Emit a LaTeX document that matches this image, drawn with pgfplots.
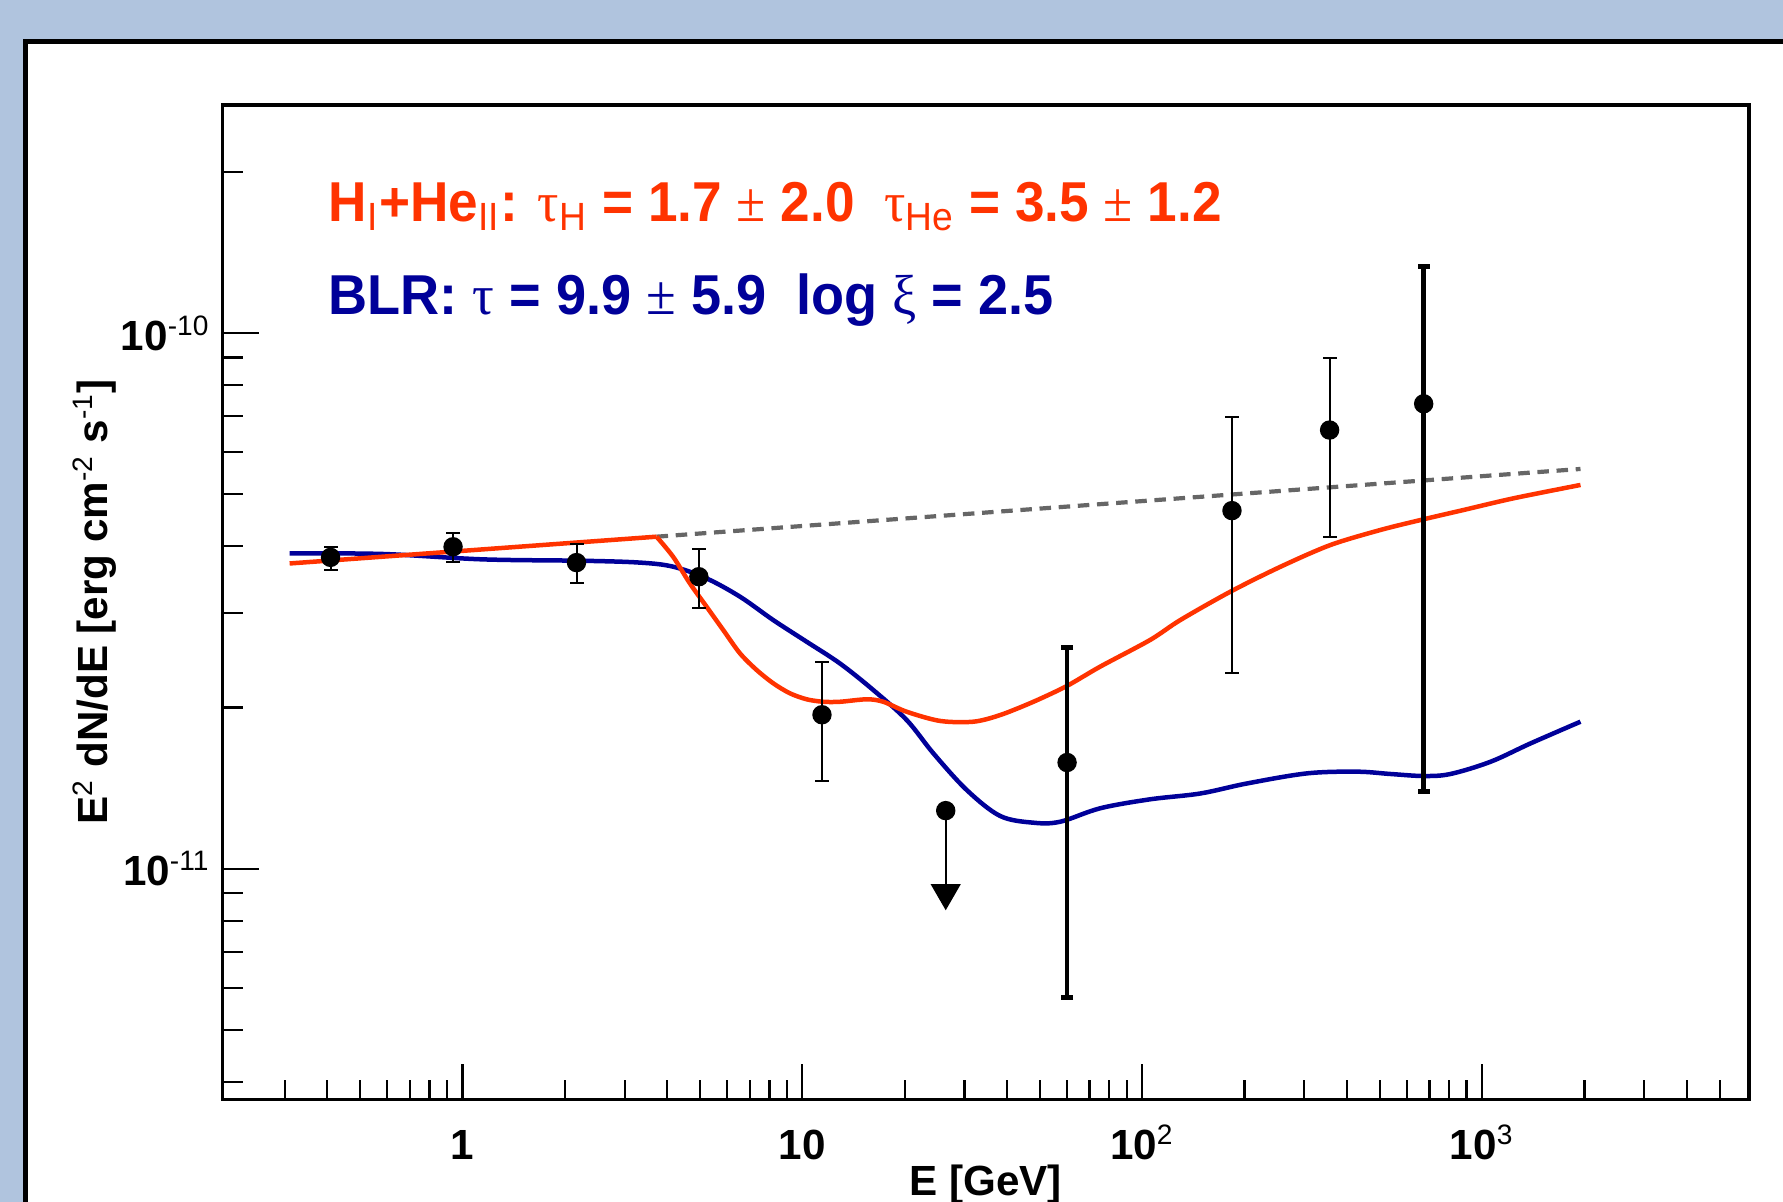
\documentclass[border=0pt]{standalone}
\usepackage{pgfplots}
\pgfplotsset{compat=1.18}
\usepackage{graphicx}
\usepackage{fontspec}
\setmainfont{Liberation Sans}
\newfontfamily\symf{Liberation Serif}
\definecolor{bgblue}{RGB}{176,196,222}
\definecolor{rred}{RGB}{255,51,0}
\definecolor{rblue}{RGB}{0,0,153}
\definecolor{rgray}{RGB}{102,102,102}
\newcommand{\lab}{\fontsize{12pt}{14pt}\selectfont\bfseries}
\newcommand{\annfont}{\fontsize{16pt}{19pt}\selectfont\bfseries}
\newcommand{\sbs}[1]{\textsubscript{\mdseries #1}}
\newcommand{\sps}[1]{\textsuperscript{\mdseries #1}}
\newcommand{\gk}[1]{{\symf\mdseries #1}}
\begin{document}
\begin{tikzpicture}
\clip (0,0) rectangle (178.3mm,120.2mm);
\fill[bgblue] (0,0) rectangle (178.3mm,120.2mm);
\draw[line width=0.5mm, fill=white] (2.5mm,116.0mm) rectangle (200mm,-20mm);
\begin{axis}[
  at={(22.27mm,10.24mm)}, anchor=south west,
  scale only axis, width=152.63mm, height=99.46mm,
  xmode=log, ymode=log,
  xmin=0.197, xmax=6100, ymin=3.707e-12, ymax=2.665e-10,
  xtick={1,10,100,1000},
  xticklabels={1,10,10\sps{2},10\sps{3}},
  ytick={1e-11,1e-10},
  yticklabels={10\sps{-11},10\sps{-10}},
  minor xtick={0.3,0.4,0.5,0.6,0.7,0.8,0.9,2,3,4,5,6,7,8,9,20,30,40,50,60,70,80,90,200,300,400,500,600,700,800,900,2000,3000,4000,5000},
  minor ytick={4e-12,5e-12,6e-12,7e-12,8e-12,9e-12,2e-11,3e-11,4e-11,5e-11,6e-11,7e-11,8e-11,9e-11,2e-10},
  tick pos=left, tick align=inside,
  major tick length=3.6mm, minor tick length=2mm,
  every tick/.style={black, line width=0.22mm},
  axis line style={line width=0.35mm},
  xticklabel style={font=\lab, anchor=base, yshift=-6.0mm},
  yticklabel style={font=\lab, anchor=east},
]
% unabsorbed power law (dashed)
\addplot[rgray, line width=0.42mm, dash pattern=on 1.15mm off 0.77mm] coordinates {
(3.724,4.168e-11) (1948,5.577e-11)};
% BLR model
\addplot[rblue, line width=0.45mm, smooth, tension=0.55] coordinates {
(0.310,3.880e-11) (0.583,3.870e-11) (1.149,3.781e-11) (2.264,3.758e-11) (3.324,3.729e-11)
(4.167,3.664e-11) (5.226,3.484e-11) (6.551,3.221e-11) (8.214,2.912e-11) (10.29,2.654e-11)
(12.90,2.417e-11) (16.17,2.156e-11) (20.28,1.895e-11) (24.30,1.642e-11) (30.45,1.403e-11)
(38.17,1.255e-11) (47.84,1.219e-11) (57.34,1.224e-11) (75.21,1.297e-11) (105.5,1.348e-11)
(148.1,1.382e-11) (203.3,1.443e-11) (305.5,1.507e-11) (428.5,1.518e-11) (537.2,1.503e-11)
(673.2,1.490e-11) (807.1,1.503e-11) (1058.6,1.584e-11) (1388,1.714e-11) (1948,1.882e-11)};
% HI+HeII model
\addplot[rred, line width=0.45mm] coordinates {(0.310,3.715e-11) (3.724,4.168e-11)};
\addplot[rred, line width=0.45mm, smooth, tension=0.5] coordinates {
(3.724,4.168e-11) (4.167,3.823e-11) (4.667,3.410e-11) (5.226,3.085e-11) (5.849,2.791e-11)
(6.551,2.525e-11) (7.337,2.350e-11) (8.214,2.219e-11) (9.190,2.126e-11) (10.29,2.072e-11)
(11.52,2.050e-11) (12.90,2.050e-11) (15.47,2.072e-11) (17.31,2.050e-11) (20.28,1.964e-11)
(25.43,1.888e-11) (31.87,1.882e-11) (38.17,1.936e-11) (47.84,2.050e-11) (60.01,2.194e-11)
(75.21,2.384e-11) (105.5,2.674e-11) (129.3,2.912e-11) (181.6,3.290e-11) (254.9,3.662e-11)
(357.8,4.021e-11) (502.1,4.290e-11) (673.2,4.492e-11) (883.5,4.676e-11) (1240,4.917e-11)
(1948,5.206e-11)};
% thin error bars
\addplot[black, line width=0.2mm, mark=-, mark size=0.7mm, unbounded coords=jump] coordinates {
(0.409,3.617e-11) (0.409,3.988e-11) (0.409,nan)
(0.938,3.743e-11) (0.938,4.227e-11) (0.938,nan)
(2.165,3.410e-11) (2.165,4.033e-11) (2.165,nan)
(4.960,3.071e-11) (4.960,3.954e-11) (4.960,nan)
(11.42,1.460e-11) (11.42,2.427e-11) (11.42,nan)
(183.7,2.316e-11) (183.7,6.963e-11) (183.7,nan)
(355.9,4.155e-11) (355.9,8.977e-11)};
% thick error bars
\addplot[black, line width=0.45mm, mark=-, mark size=0.6mm, unbounded coords=jump] coordinates {
(60.1,5.751e-12) (60.1,2.590e-11) (60.1,nan)
(673.2,1.393e-11) (673.2,1.330e-10)};
% upper limit arrow
\addplot[black, line width=0.2mm] coordinates {(26.41,1.284e-11) (26.41,9.3e-12)};
\addplot[black, only marks, mark=triangle*, mark size=1.6mm, mark options={rotate=180}] coordinates {(26.41,9.016e-12)};
% data points
\addplot[black, only marks, mark=*, mark size=0.9mm] coordinates {
(0.409,3.814e-11) (0.938,3.992e-11) (2.165,3.729e-11) (4.960,3.509e-11) (11.42,1.939e-11)
(26.41,1.284e-11) (60.1,1.579e-11) (183.7,4.662e-11) (355.9,6.592e-11) (673.2,7.380e-11)};
\end{axis}
\node[font=\lab, anchor=base] at (98.59mm,0.6mm) {E [GeV]};
\node[font=\lab, rotate=90, anchor=base] at (10.8mm,60.0mm) {E\sps{2} dN/dE [erg cm\sps{-2} s\sps{-1}]};
\node[font=\annfont, anchor=base west, text=rred, inner sep=0pt] at (32.8mm,98.03mm)
  {\scalebox{0.945}[1]{H\sbs{I}+He\sbs{II}: \gk{τ}\sbs{H} = 1.7 \gk{±} 2.0\ \ \gk{τ}\sbs{He} = 3.5 \gk{±} 1.2}};
\node[font=\annfont, anchor=base west, text=rblue, inner sep=0pt] at (32.8mm,88.7mm)
  {\scalebox{0.962}[1]{BLR: \gk{τ} = 9.9 \gk{±} 5.9\ \ log \gk{ξ} = 2.5}};
\end{tikzpicture}
\end{document}
